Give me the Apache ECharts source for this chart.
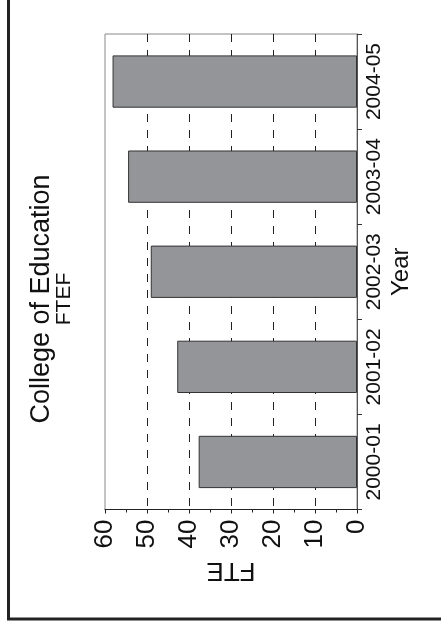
<!DOCTYPE html>
<html>
<head>
<meta charset="utf-8">
<script src="https://cdn.jsdelivr.net/npm/echarts@6/dist/echarts.min.js"></script>
<style>
html,body{margin:0;padding:0;background:#fff;}
#chart{width:441px;height:626px;}
</style>
</head>
<body>
<div id="chart"></div>
<script>
var categories = ['2000-01', '2001-02', '2002-03', '2003-04', '2004-05'];
var fteValues = [37.7, 42.8, 49.1, 54.5, 58.2];
var valueTicks = [0, 10, 20, 30, 40, 50, 60];
var titleLines = ['College of Education', 'FTEF'];

var FONT = '"Liberation Sans", Arial, Helvetica, sans-serif';
var chart = echarts.init(document.getElementById('chart'), null, {renderer: 'canvas'});

var gridColors = valueTicks.map(function (v, i) {
  return (i === 0 || i === valueTicks.length - 1) ? 'rgba(0,0,0,0)' : '#222';
});

chart.setOption({
  animation: false,
  backgroundColor: '#fff',
  grid: {
    left: 105, top: 34, right: 84, bottom: 116.5,
    show: true, borderColor: '#888', borderWidth: 1, backgroundColor: 'transparent'
  },
  xAxis: {
    type: 'value',
    min: valueTicks[0], max: valueTicks[valueTicks.length - 1], interval: 10,
    inverse: true,
    position: 'bottom',
    name: 'FTE',
    nameLocation: 'middle',
    nameRotate: 180,
    nameGap: 48,
    nameMoveOverlap: false,
    nameTextStyle: {fontFamily: FONT, fontSize: 26, color: '#111'},
    axisLine: {show: true, lineStyle: {color: '#222', width: 1}},
    axisTick: {show: true, length: 4, lineStyle: {color: '#222'}},
    minorTick: {show: true, splitNumber: 2, length: 3, lineStyle: {color: '#222'}},
    axisLabel: {rotate: 90, fontFamily: FONT, fontSize: 26, color: '#111', margin: 10},
    splitLine: {show: true, lineStyle: {color: gridColors, type: [8, 8], width: 1}}
  },
  yAxis: {
    type: 'category',
    data: categories,
    position: 'right',
    name: 'Year',
    nameLocation: 'middle',
    nameRotate: 90,
    nameGap: 32,
    nameMoveOverlap: false,
    nameTextStyle: {fontFamily: FONT, fontSize: 24, color: '#111'},
    axisLine: {show: true, lineStyle: {color: '#555', width: 1}},
    axisTick: {show: true, length: 5, lineStyle: {color: '#333'}},
    axisLabel: {rotate: 90, interval: 0, hideOverlap: false, fontFamily: FONT, fontSize: 21, color: '#111', margin: 7},
    splitLine: {show: false}
  },
  series: [{
    type: 'bar',
    data: fteValues,
    barCategoryGap: '45%',
    itemStyle: {color: '#939598', borderColor: '#333', borderWidth: 1}
  }],
  graphic: [
    {type: 'text', x: 42, y: 299, rotation: Math.PI / 2,
     style: {text: titleLines[0], fontFamily: FONT, fontSize: 27, fill: '#111', textAlign: 'center', textVerticalAlign: 'middle'}},
    {type: 'text', x: 64, y: 299, rotation: Math.PI / 2,
     style: {text: titleLines[1], fontFamily: FONT, fontSize: 21, fill: '#111', textAlign: 'center', textVerticalAlign: 'middle'}},
    {type: 'polyline', shape: {points: [[8.5, 0], [8.5, 619], [441, 619]]},
     style: {stroke: '#222', lineWidth: 3, fill: null}}
  ]
});
</script>
</body>
</html>
